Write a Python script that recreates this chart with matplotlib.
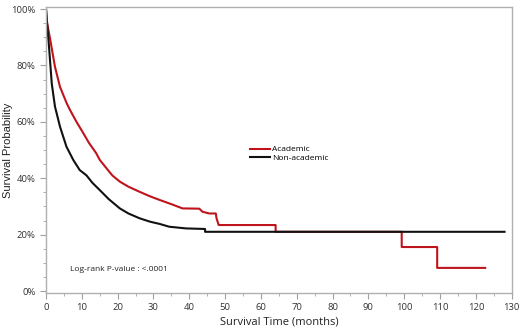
import matplotlib
matplotlib.use('Agg')
import matplotlib.pyplot as plt
from matplotlib.ticker import MultipleLocator, FuncFormatter

plt.rcParams['font.family'] = ['Open Sans', 'DejaVu Sans']

# Kaplan-Meier estimates (months, % surviving)
acad_t = [0, 0.3, 1.1, 2.5, 3.9, 5.8, 6.7, 8.5, 10.4, 12, 14, 15, 16.9, 18.5, 20.6, 23,
          26.1, 29, 31.7, 35, 38.1, 42.8, 43.7, 45.6, 47.4, 47.6, 48.2, 64.1, 64.1,
          99.3, 99.3, 109.2, 109.2, 122.6]
acad_s = [100, 95, 89.7, 79.5, 72.4, 66.5, 64.2, 60, 56, 52.5, 48.9, 46.5, 43.5, 41, 38.8, 37,
          35.2, 33.6, 32.3, 30.8, 29.3, 29.2, 28.1, 27.5, 27.5, 25.8, 23.4, 23.4, 21,
          21, 15.6, 15.6, 8.2, 8.2]

nonacad_t = [0, 0.3, 0.9, 1.6, 2.5, 3.9, 5.7, 7.6, 9.4, 11.3, 13, 15, 17.5, 20.6, 23,
             26.1, 29, 31.7, 34.4, 39.1, 44.4, 44.4, 128]
nonacad_s = [100, 95, 85.5, 73.6, 65.4, 58.3, 51.2, 46.5, 42.9, 41, 38.3, 35.8, 32.6, 29.3, 27.5,
             25.8, 24.6, 23.8, 22.8, 22.2, 22, 21, 21]

pvalue_text = 'Log-rank P-value : <.0001'

fig = plt.figure(figsize=(5.2, 3.36), dpi=100)
ax = fig.add_axes([0.0885, 0.128, 0.8955, 0.851])

ax.plot(acad_t, acad_s, color='#c0141c', linewidth=1.5, label='Academic')
ax.plot(nonacad_t, nonacad_s, color='#111111', linewidth=1.5, label='Non-academic')

ax.set_xlim(0, 130)
ax.set_ylim(-0.7, 100.7)
ax.xaxis.set_major_locator(MultipleLocator(10))
ax.xaxis.set_minor_locator(MultipleLocator(5))
ax.yaxis.set_major_locator(MultipleLocator(20))
ax.yaxis.set_minor_locator(MultipleLocator(5))
ax.yaxis.set_major_formatter(FuncFormatter(lambda v, p: '%d%%' % round(v)))

for s in ax.spines.values():
    s.set_color('#b0b0b0')
    s.set_linewidth(1.0)
ax.tick_params(which='both', direction='out', color='#a0a0a0', labelsize=6.8, labelcolor='#333333')
ax.tick_params(which='major', length=4)
ax.tick_params(which='minor', length=2.5)

ax.set_xlabel('Survival Time (months)', fontsize=8, color='#222222', labelpad=3)
fig.text(0.016, 0.554, 'Survival Probability', rotation=90, ha='center', va='center',
         fontsize=8, color='#222222', family=['Liberation Sans', 'DejaVu Sans'])

ax.text(6.8, 7.0, pvalue_text, fontsize=6, color='#222222')

ax.legend(loc='upper left', bbox_to_anchor=(0.43, 0.53), frameon=False, fontsize=6,
          handlelength=2.3, handletextpad=0.3, labelspacing=0.05, borderpad=0)

fig.savefig('out.png', dpi=100)
